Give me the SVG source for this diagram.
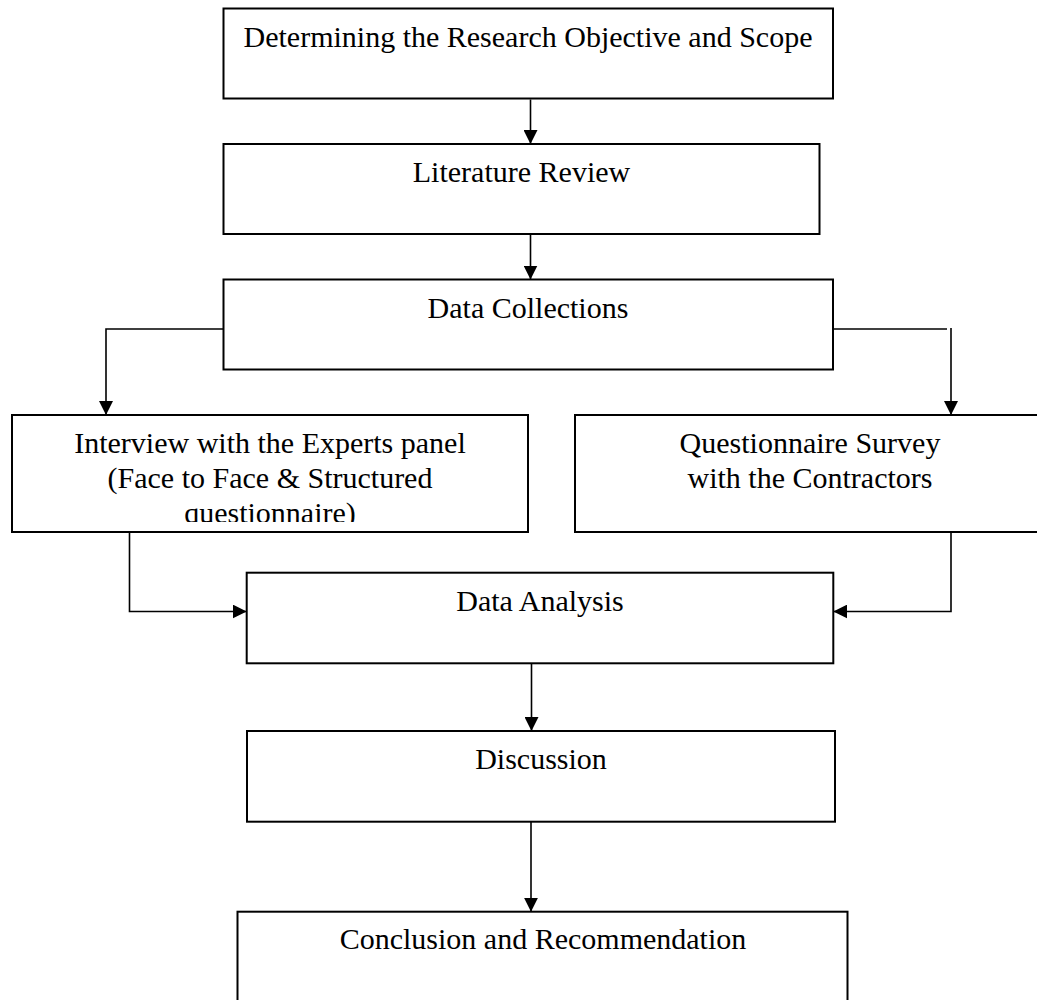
<svg xmlns="http://www.w3.org/2000/svg" width="1037" height="1000" viewBox="0 0 1037 1000">
<style>
.box{fill:#fff;stroke:#000;stroke-width:2}
.lbl{font-family:"Liberation Serif","Times New Roman",serif;font-size:30px;fill:#000;text-anchor:middle}
.con{fill:none;stroke:#000;stroke-width:1.6}
</style>
<defs>
<marker id="ah" viewBox="0 0 14 14" refX="14" refY="7" markerWidth="14" markerHeight="14" markerUnits="userSpaceOnUse" orient="auto">
<path d="M0,0 L14,7 L0,14 Z" fill="#000"/>
</marker>
<clipPath id="clip4"><rect x="12" y="415" width="516" height="107"/></clipPath>
</defs>
<rect width="1037" height="1000" fill="#fff"/>
<g id="n1"><rect class="box" x="223.5" y="8.5" width="609.5" height="90"/><text class="lbl" x="528" y="46.5">Determining the Research Objective and Scope</text></g>
<g id="n2"><rect class="box" x="223.5" y="144" width="596" height="90"/><text class="lbl" x="521.5" y="182">Literature Review</text></g>
<g id="n3"><rect class="box" x="223.5" y="279.5" width="609.5" height="90"/><text class="lbl" x="528" y="318">Data Collections</text></g>
<g id="n4"><rect class="box" x="12" y="415" width="516" height="117"/><g clip-path="url(#clip4)"><text class="lbl" x="270" y="453">Interview with the Experts panel</text><text class="lbl" x="270" y="488">(Face to Face &amp; Structured</text><text class="lbl" x="270" y="523">questionnaire)</text></g></g>
<g id="n5"><rect class="box" x="575" y="415" width="470" height="117"/><text class="lbl" x="810" y="453">Questionnaire Survey</text><text class="lbl" x="810" y="488">with the Contractors</text></g>
<g id="n6"><rect class="box" x="246.7" y="572.7" width="586.6" height="90.6"/><text class="lbl" x="540" y="610.5">Data Analysis</text></g>
<g id="n7"><rect class="box" x="247" y="731" width="588" height="90.7"/><text class="lbl" x="541" y="768.5">Discussion</text></g>
<g id="n8"><rect class="box" x="237.5" y="911.7" width="610" height="120"/><text class="lbl" x="543" y="948.5">Conclusion and Recommendation</text></g>
<g id="connectors">
<path class="con" d="M530.5,99.5 V144" marker-end="url(#ah)"/>
<path class="con" d="M530.5,235 V279.5" marker-end="url(#ah)"/>
<path class="con" d="M223.5,329 H106 V415" marker-end="url(#ah)"/>
<path class="con" d="M833,329 H947"/>
<path class="con" d="M951,328 V415" marker-end="url(#ah)"/>
<path class="con" d="M129.5,532 V611.5 H246.7" marker-end="url(#ah)"/>
<path class="con" d="M951,532 V611.5 H833.3" marker-end="url(#ah)"/>
<path class="con" d="M531.5,664 V731" marker-end="url(#ah)"/>
<path class="con" d="M531,822 V911.7" marker-end="url(#ah)"/>
</g>
</svg>
